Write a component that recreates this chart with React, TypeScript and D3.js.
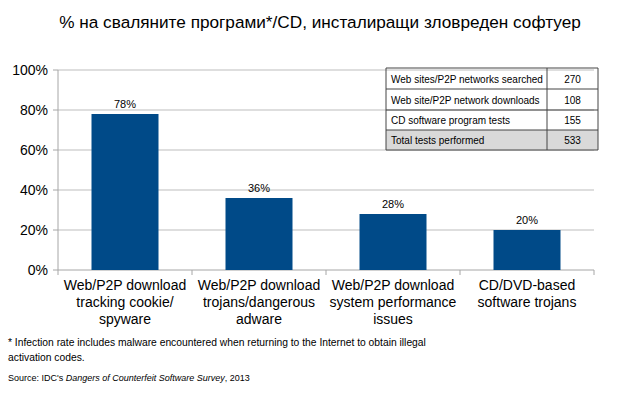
import React from 'react';
import * as d3 from 'd3';

const categories = [
  ['Web/P2P download', 'tracking cookie/', 'spyware'],
  ['Web/P2P download', 'trojans/dangerous', 'adware'],
  ['Web/P2P download', 'system performance', 'issues'],
  ['CD/DVD-based', 'software trojans'],
];
const values = [78, 36, 28, 20];
const yTicks = [0, 20, 40, 60, 80, 100];

const tableLabels = [
  'Web sites/P2P  networks searched',
  'Web site/P2P  network downloads',
  'CD software program tests',
  'Total tests performed',
];
const tableValues = [270, 108, 155, 533];

const W = 618;
const H = 395;
const FONT = 'Arial, "Liberation Sans", sans-serif';

export default function App() {
  const x = d3
    .scaleBand<number>()
    .domain(values.map((_, i) => i))
    .range([58, 594])
    .paddingInner(0.5)
    .paddingOuter(0.25);
  const band = d3.scaleBand<number>().domain(values.map((_, i) => i)).range([58, 594]);
  const y = d3.scaleLinear().domain([0, 100]).range([270, 70]);

  const tx = 386;
  const tw = 212;
  const split = 547;
  const rowY = [68, 89, 110, 130, 150];

  return (
    <svg width={W} height={H} style={{ position: 'absolute', left: 0, top: 0, fontFamily: FONT }}>
      <rect width={W} height={H} fill="#fff" />
      <text x={320} y={28} textAnchor="middle" fontSize={17.2} fill="#000">
        % на сваляните програми*/CD, инсталиращи зловреден софтуер
      </text>

      {/* grid + y axis */}
      {yTicks.map(t => (
        <g key={t}>
          {t > 0 && <line x1={58} x2={594} y1={y(t)} y2={y(t)} stroke="#bdbdbd" strokeWidth={1} />}
          <line x1={53} x2={58} y1={y(t)} y2={y(t)} stroke="#a6a6a6" />
          <text x={48} y={y(t) + 5} textAnchor="end" fontSize={14} fill="#000">
            {t}%
          </text>
        </g>
      ))}
      <line x1={58} x2={58} y1={70} y2={270} stroke="#a6a6a6" />
      <line x1={58} x2={594} y1={270} y2={270} stroke="#a6a6a6" />
      {values.map((_, i) => (
        <line key={i} x1={band(i)!} x2={band(i)!} y1={270} y2={275} stroke="#a6a6a6" />
      ))}
      <line x1={594} x2={594} y1={270} y2={275} stroke="#a6a6a6" />

      {/* bars */}
      {values.map((v, i) => (
        <g key={i}>
          <rect x={x(i)} y={y(v)} width={x.bandwidth()} height={270 - y(v)} fill="#004a88" />
          <text x={x(i)! + x.bandwidth() / 2} y={y(v) - 6} textAnchor="middle" fontSize={11} fill="#000">
            {v}%
          </text>
        </g>
      ))}

      {/* category labels */}
      {categories.map((lines, i) => (
        <text key={i} x={band(i)! + band.bandwidth() / 2} textAnchor="middle" fontSize={14} fill="#000">
          {lines.map((l, j) => (
            <tspan key={j} x={band(i)! + band.bandwidth() / 2} y={290 + j * 17}>
              {l}
            </tspan>
          ))}
        </text>
      ))}

      {/* table */}
      <rect x={tx} y={rowY[3]} width={tw} height={rowY[4] - rowY[3]} fill="#d9d9d9" />
      {tableLabels.map((l, i) => (
        <g key={i}>
          <text x={tx + 5} y={(rowY[i] + rowY[i + 1]) / 2 + 4} fontSize={10} fill="#000">
            {l}
          </text>
          <text x={(split + tx + tw) / 2} y={(rowY[i] + rowY[i + 1]) / 2 + 4} textAnchor="middle" fontSize={10} fill="#000">
            {tableValues[i]}
          </text>
        </g>
      ))}
      {rowY.map((r, i) => (
        <line key={i} x1={tx} x2={tx + tw} y1={r} y2={r} stroke="#444" />
      ))}
      <line x1={tx} x2={tx} y1={rowY[0]} y2={rowY[4]} stroke="#444" />
      <line x1={split} x2={split} y1={rowY[0]} y2={rowY[4]} stroke="#444" />
      <line x1={tx + tw} x2={tx + tw} y1={rowY[0]} y2={rowY[4]} stroke="#444" />

      {/* notes */}
      <text x={8} y={346} fontSize={10.3} fill="#000">
        * Infection rate includes malware encountered when returning to the Internet to obtain illegal
      </text>
      <text x={8} y={361} fontSize={10.3} fill="#000">
        activation codes.
      </text>
      <text x={8} y={381} fontSize={9} fill="#000">
        Source: IDC's <tspan fontStyle="italic">Dangers of Counterfeit Software Survey</tspan>, 2013
      </text>
    </svg>
  );
}
